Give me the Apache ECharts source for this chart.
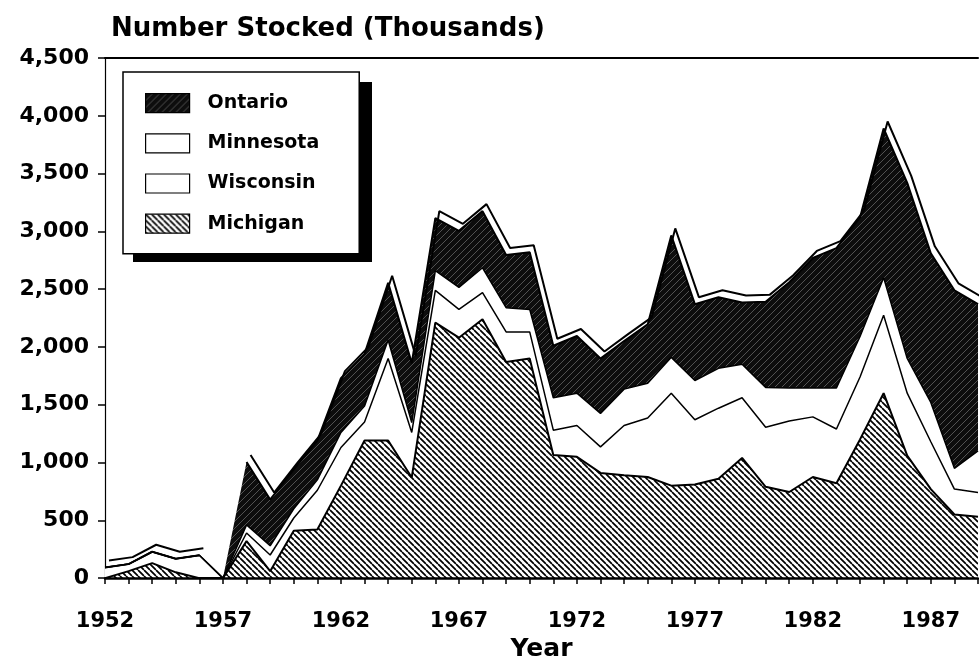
<!DOCTYPE html>
<html lang="en">
    <head>
        <meta charset="UTF-8" />
        <title>Number Stocked</title>
        <script src="https://cdn.jsdelivr.net/npm/echarts@6/dist/echarts.min.js"></script>
        <style>
            html, body { margin: 0; padding: 0; background: #fff; overflow: hidden; }
            #chart { width: 979px; height: 667px; }
        </style>
    </head>

    <body>
        <div id="chart"></div>

        <script>
            var years = [];
            for (var y = 1952; y <= 1989; y++) years.push(String(y));

            // thousands stocked (stacked bottom -> top)
            var michigan = [
                0, 60, 130, 50, 0, 0, 320, 60, 410, 420,
                800, 1190, 1190, 870, 2210, 2080, 2240, 1870, 1900, 1065,
                1050, 910, 890, 875, 800, 810, 860, 1040, 790, 745,
                875, 820, 1200, 1600, 1060, 770, 550, 530
            ];
            var wisconsin = [
                91, 61, 98, 117, 198, 0, 70, 140, 110, 340,
                330, 160, 710, 390, 280, 245, 230, 260, 230, 215,
                270, 225, 430, 510, 800, 560, 610, 520, 515, 615,
                520, 470, 540, 675, 540, 410, 220, 210
            ];
            var minnesota = [
                0, 0, 0, 0, 0, 0, 70, 80, 80, 90,
                130, 140, 160, 85, 170, 190, 215, 210, 195, 280,
                280, 290, 315, 300, 310, 340, 345, 290, 345, 285,
                250, 355, 350, 325, 300, 340, 180, 360
            ];
            var ontario = [
                0, 0, 0, 0, 0, 0, 545, 400, 340, 340,
                470, 450, 495, 515, 455, 490, 490, 455, 495, 450,
                495, 475, 415, 510, 1055, 660, 615, 535, 740, 915,
                1125, 1210, 1030, 1290, 1520, 1290, 1540, 1270
            ];
            var yTicks = [0, 500, 1000, 1500, 2000, 2500, 3000, 3500, 4000, 4500];

            var font = 'DejaVu Sans';

            // top outline of the stack, gap where nothing was stocked
            var totals = michigan.map(function (v, i) {
                var t = v + wisconsin[i] + minnesota[i] + ontario[i];
                return t === 0 ? null : t;
            });

            function hatch(bg, fg, width, size, dir) {
                var c = document.createElement('canvas');
                c.width = size;
                c.height = size;
                var ctx = c.getContext('2d');
                ctx.fillStyle = bg;
                ctx.fillRect(0, 0, size, size);
                ctx.strokeStyle = fg;
                ctx.lineWidth = width;
                ctx.beginPath();
                for (var k = -1; k <= 1; k++) {
                    if (dir > 0) {
                        ctx.moveTo(k * size, size);
                        ctx.lineTo(k * size + size, 0);
                    } else {
                        ctx.moveTo(k * size, 0);
                        ctx.lineTo(k * size + size, size);
                    }
                }
                ctx.stroke();
                return { image: c, repeat: 'repeat' };
            }

            var michPattern = hatch('#fff', '#000', 1.7, 6, -1);
            var ontPattern = hatch('#0d0d0d', 'rgba(255,255,255,0.32)', 0.9, 7, 1);

            function layer(name, data, fill, lineW) {
                return {
                    name: name,
                    type: 'line',
                    stack: 'all',
                    data: data,
                    showSymbol: false,
                    symbol: 'none',
                    itemStyle: { color: fill },
                    lineStyle: { color: '#000', width: lineW },
                    areaStyle: { color: fill, opacity: 1 },
                    emphasis: { disabled: true },
                };
            }

            var element = document.getElementById('chart');
            var myChart = echarts.init(element, null, { renderer: 'canvas' });

            var option = {
                animation: false,
                backgroundColor: '#fff',
                title: {
                    text: 'Number Stocked (Thousands)',
                    left: 106,
                    top: 11,
                    textStyle: {
                        fontFamily: font,
                        fontWeight: 'bold',
                        fontSize: 26,
                        color: '#000',
                    },
                },
                // drop shadow behind the legend box
                graphic: [
                    {
                        type: 'rect',
                        left: 133,
                        top: 82,
                        shape: { width: 239, height: 180 },
                        style: { fill: '#000' },
                        z: 3,
                    },
                ],
                legend: {
                    data: ['Ontario', 'Minnesota', 'Wisconsin', 'Michigan'],
                    orient: 'vertical',
                    left: 123,
                    top: 72,
                    z: 6,
                    padding: [21, 40, 20, 22],
                    itemWidth: 44,
                    itemHeight: 19,
                    itemGap: 20,
                    icon: 'rect',
                    backgroundColor: '#fff',
                    borderColor: '#000',
                    borderWidth: 1.5,
                    itemStyle: { borderColor: '#000', borderWidth: 1.2 },
                    textStyle: {
                        fontFamily: font,
                        fontWeight: 'bold',
                        fontSize: 19,
                        color: '#000',
                        padding: [0, 0, 0, 13],
                    },
                },
                grid: { left: 105, right: 1, top: 58, height: 527 },
                xAxis: [
                    {
                        type: 'category',
                        data: years,
                        boundaryGap: false,
                        name: 'Year',
                        nameLocation: 'middle',
                        nameGap: 58,
                        nameTextStyle: {
                            fontFamily: font,
                            fontWeight: 'bold',
                            fontSize: 25,
                            color: '#000',
                        },
                        axisLine: { lineStyle: { color: '#000', width: 2.5 } },
                        axisTick: { interval: 0, length: 6, lineStyle: { color: '#000', width: 1.5 } },
                        axisLabel: {
                            interval: 4,
                            margin: 33,
                            fontFamily: font,
                            fontWeight: 'bold',
                            fontSize: 21,
                            color: '#000',
                        },
                        splitLine: { show: false },
                        z: 10,
                    },
                    {
                        type: 'category',
                        data: years,
                        boundaryGap: false,
                        position: 'top',
                        axisLine: { lineStyle: { color: '#000', width: 2 } },
                        axisTick: { show: false },
                        axisLabel: { show: false },
                    },
                ],
                yAxis: {
                    type: 'value',
                    min: yTicks[0],
                    max: yTicks[yTicks.length - 1],
                    interval: 500,
                    axisLine: { show: true, lineStyle: { color: '#000', width: 1.2 } },
                    axisTick: { show: true, length: 7, lineStyle: { color: '#000', width: 1.5 } },
                    axisLabel: {
                        margin: 16,
                        fontFamily: font,
                        fontWeight: 'bold',
                        fontSize: 22,
                        color: '#000',
                        formatter: function (v) {
                            return v.toLocaleString('en-US');
                        },
                    },
                    splitLine: { show: false },
                },
                series: [
                    layer('Michigan', michigan, michPattern, 2),
                    layer('Wisconsin', wisconsin, '#fff', 1.5),
                    layer('Minnesota', minnesota, '#fff', 1.5),
                    layer('Ontario', ontario, ontPattern, 0),
                    {
                        // raised top edge of the stack
                        name: 'top',
                        type: 'line',
                        data: totals,
                        showSymbol: false,
                        symbol: 'none',
                        connectNulls: false,
                        lineStyle: {
                            color: '#000',
                            width: 2,
                            shadowColor: '#000',
                            shadowBlur: 0,
                            shadowOffsetX: 4,
                            shadowOffsetY: -7,
                        },
                        emphasis: { disabled: true },
                        z: 5,
                    },
                ],
            };
            myChart.setOption(option, true);
        </script>
    </body>
</html>
